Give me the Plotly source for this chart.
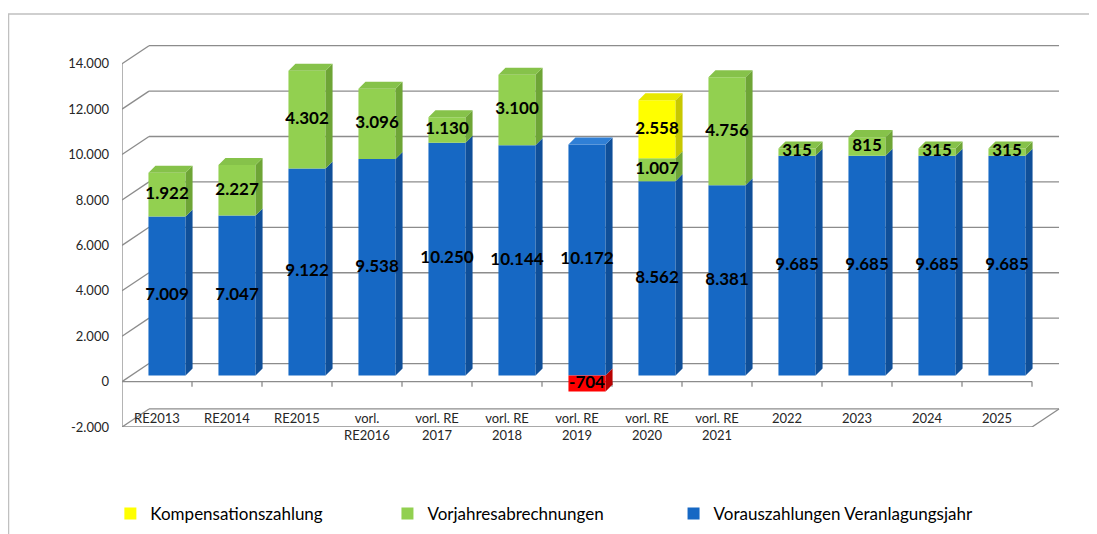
import plotly.graph_objects as go

# ---------------- data ----------------
categories = ["RE2013", "RE2014", "RE2015", "vorl.<br>RE2016", "vorl. RE<br>2017",
              "vorl. RE<br>2018", "vorl. RE<br>2019", "vorl. RE<br>2020", "vorl. RE<br>2021",
              "2022", "2023", "2024", "2025"]
vorauszahlungen = [7009, 7047, 9122, 9538, 10250, 10144, 10172, 8562, 8381, 9685, 9685, 9685, 9685]
vorjahres = [1922, 2227, 4302, 3096, 1130, 3100, -704, 1007, 4756, 315, 815, 315, 315]
kompensation = [0, 0, 0, 0, 0, 0, 0, 2558, 0, 0, 0, 0, 0]
y_ticks = [-2000, 0, 2000, 4000, 6000, 8000, 10000, 12000, 14000]

series_names = ["Vorauszahlungen Veranlagungsjahr", "Vorjahresabrechnungen", "Kompensationszahlung"]
series_vals = [vorauszahlungen, vorjahres, kompensation]

# ---------------- style ----------------
FRONT = {"blue": "#1668c4", "green": "#92d050", "yellow": "#ffff00", "red": "#ff0000"}
SIDE = {"blue": "#0f4f99", "green": "#6ea536", "yellow": "#c8c800", "red": "#b80000"}
TOP = {"blue": "#2f7fd6", "green": "#86c24a", "yellow": "#e8e800", "red": "#ff3030"}
series_col = ["blue", "green", "yellow"]
NEG_COL = "red"
GRID = "#8c8c8c"
FONT = "Lato"


def de(v):
    return f"{v:,}".replace(",", ".")


n = len(categories)
idx = list(range(n))

# geometry (axis units)
X0, X1 = -0.5, 12.9
Y0, Y1 = -2000, 15000
BAR_W = 0.53
BAR_DX, BAR_DY = 0.1, 310          # bar depth
SHIFT_X, SHIFT_Y = 0.143, 265      # bars sit a bit behind the front plane
WALL_DX, WALL_DY = 0.386, 794      # back wall offset

fig = go.Figure()

# ---- stacked segments ----
seg = []  # (i, bottom, top, colorkey, value)
tops = []
for i in idx:
    pos, neg = 0, 0
    for s, vals in enumerate(series_vals):
        v = vals[i]
        if not v:
            continue
        if v > 0:
            b, t = pos, pos + v
            pos = t
            ck = series_col[s]
        else:
            b, t = neg + v, neg
            neg = b
            ck = NEG_COL
        seg.append((i, b, t, ck, v))
    tops.append((i, pos))

# side faces & top faces
for ck in ["blue", "green", "yellow", "red"]:
    xs, ys = [], []
    for (i, b, t, c, v) in seg:
        if c != ck:
            continue
        xr = i + BAR_W / 2
        xs += [xr, xr + BAR_DX, xr + BAR_DX, xr, xr, None]
        ys += [b, b + BAR_DY, t + BAR_DY, t, b, None]
    if xs:
        fig.add_trace(go.Scatter(x=xs, y=ys, fill="toself", fillcolor=SIDE[ck], mode="lines",
                                 line=dict(width=0), hoverinfo="skip", showlegend=False,
                                 xaxis="x2", yaxis="y2"))
    xs, ys = [], []
    for (i, T) in tops:
        top_seg = [s_ for s_ in seg if s_[0] == i and s_[2] == T and s_[4] > 0]
        if not top_seg or top_seg[-1][3] != ck:
            continue
        xl, xr = i - BAR_W / 2, i + BAR_W / 2
        xs += [xl, xl + BAR_DX, xr + BAR_DX, xr, xl, None]
        ys += [T, T + BAR_DY, T + BAR_DY, T, T, None]
    if xs:
        fig.add_trace(go.Scatter(x=xs, y=ys, fill="toself", fillcolor=TOP[ck], mode="lines",
                                 line=dict(width=0), hoverinfo="skip", showlegend=False,
                                 xaxis="x2", yaxis="y2"))

# front faces (bars), each series in its own legend box
legend_ids = ["legend3", "legend2", "legend"]
for s, vals in enumerate(series_vals):
    colors = [FRONT[NEG_COL] if (v is not None and v < 0) else FRONT[series_col[s]] for v in vals]
    fig.add_trace(go.Bar(x=idx, y=vals, name=series_names[s], width=BAR_W,
                         marker=dict(color=colors, line=dict(width=0)),
                         legend=legend_ids[s], hoverinfo="skip",
                         xaxis="x2", yaxis="y2"))

# value labels
fig.add_trace(go.Scatter(x=[sg[0] for sg in seg], y=[(sg[1] + sg[2]) / 2 for sg in seg],
                         text=[de(sg[4]) for sg in seg], mode="text",
                         textfont=dict(family=FONT, size=17, color="#000000", weight="bold"),
                         hoverinfo="skip", showlegend=False, xaxis="x2", yaxis="y2"))

# ---- frame / grid shapes ----
shapes = []
ln = dict(color=GRID, width=1.3)
for v in y_ticks:
    shapes.append(dict(type="line", xref="x", yref="y", x0=-0.5 + WALL_DX, x1=12.5 + WALL_DX,
                       y0=v + WALL_DY, y1=v + WALL_DY, line=ln, layer="below"))
    shapes.append(dict(type="line", xref="x", yref="y", x0=-0.5, x1=-0.5 + WALL_DX,
                       y0=v, y1=v + WALL_DY, line=ln, layer="below"))
# front left vertical
shapes.append(dict(type="line", xref="x", yref="y", x0=-0.5, x1=-0.5, y0=-2000, y1=14000, line=ln, layer="below"))
# floor front edge and right diagonal
shapes.append(dict(type="line", xref="x", yref="y", x0=-0.5, x1=12.5, y0=-2000, y1=-2000, line=ln, layer="below"))
shapes.append(dict(type="line", xref="x", yref="y", x0=12.5, x1=12.5 + WALL_DX, y0=-2000, y1=-2000 + WALL_DY,
                   line=ln, layer="below"))
# zero line with tick marks
shapes.append(dict(type="line", xref="x", yref="y", x0=-0.5, x1=12.5, y0=0, y1=0, line=ln, layer="below"))
for k in range(1, n + 1):
    shapes.append(dict(type="line", xref="x", yref="y", x0=k - 0.5, x1=k - 0.5, y0=0, y1=-230,
                       line=ln, layer="below"))
# outer border of chart
shapes.append(dict(type="path", xref="paper", yref="paper",
                   path="M -0.121 -0.3 L -0.121 1.07 L 1.1 1.07",
                   line=dict(color="#c0c0c0", width=1.5)))

legend_style = dict(orientation="h", y=-0.225, xanchor="left", yanchor="middle",
                    font=dict(family=FONT, size=17, color="#000000"), bgcolor="rgba(0,0,0,0)")

# page has an 8px body margin -> figure is 8px smaller than the window
fig.update_layout(
    width=1089, height=526,
    margin=dict(l=114, r=37, t=33, b=107, autoexpand=False),
    paper_bgcolor="white", plot_bgcolor="rgba(0,0,0,0)",
    barmode="relative",
    shapes=shapes,
    font=dict(family=FONT, color="#262626"),
    xaxis=dict(range=[X0, X1], tickvals=idx, ticktext=categories, showgrid=False, zeroline=False,
               showline=False, ticks="", anchor="free", position=0.047, automargin=False,
               tickfont=dict(family=FONT, size=13, color="#262626"), fixedrange=True),
    yaxis=dict(range=[Y0, Y1], tickvals=y_ticks, ticktext=[de(v) for v in y_ticks],
               showgrid=False, zeroline=False, showline=False, ticks="", ticklabelstandoff=12,
               automargin=False,
               tickfont=dict(family=FONT, size=13, color="#262626"), fixedrange=True),
    xaxis2=dict(range=[X0 - SHIFT_X, X1 - SHIFT_X], overlaying="x", anchor="y2", visible=False,
                fixedrange=True),
    yaxis2=dict(range=[Y0 - SHIFT_Y, Y1 - SHIFT_Y], overlaying="y", anchor="x2", visible=False,
                fixedrange=True),
    legend=dict(x=-0.0124, **legend_style),
    legend2=dict(x=0.283, **legend_style),
    legend3=dict(x=0.588, **legend_style),
    showlegend=True,
)

fig.write_html("out.html")
